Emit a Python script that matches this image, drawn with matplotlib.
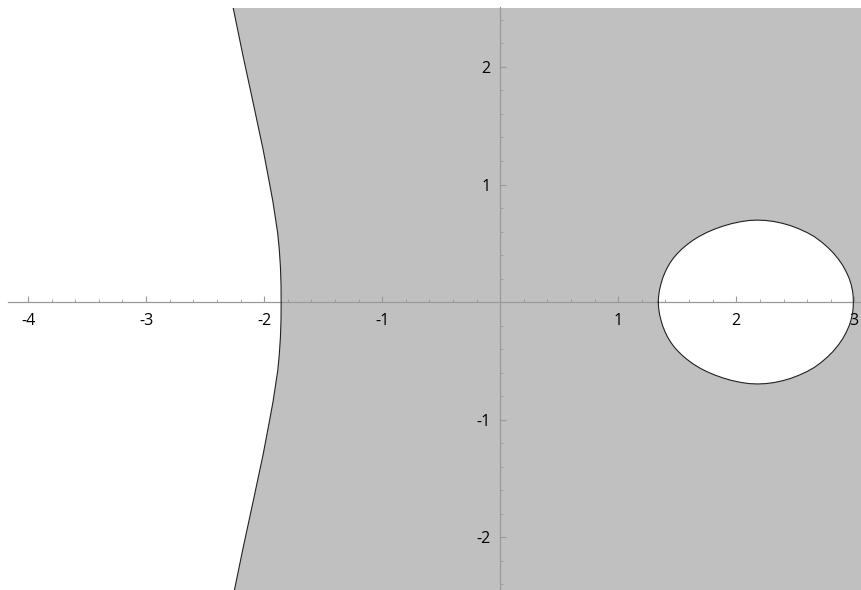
import numpy as np
from matplotlib import pyplot as plt

#Boundary (upper half, curve is symmetric in y)#
#left branch: y -> x
left_y = [0.0, 0.15, 0.3, 0.45, 0.585, 0.85, 1.05, 1.294, 1.70, 2.10, 2.55]
left_x = [-1.856, -1.857, -1.862, -1.872, -1.885, -1.925, -1.962, -2.008, -2.094, -2.180, -2.272]

#closed oval on the right: x -> y
oval_x = [1.339, 1.342, 1.350, 1.362, 1.377, 1.395, 1.415, 1.440, 1.468, 1.500,
          1.540, 1.585, 1.635, 1.690, 1.750, 1.815, 1.885, 1.960, 2.040, 2.110,
          2.180, 2.250, 2.320, 2.390, 2.460, 2.530, 2.600, 2.660, 2.720, 2.775,
          2.820, 2.865, 2.900, 2.930, 2.955, 2.973, 2.985, 2.990, 2.992]
oval_y = [0.000, 0.050, 0.105, 0.155, 0.205, 0.250, 0.292, 0.335, 0.375, 0.412,
          0.452, 0.490, 0.527, 0.561, 0.592, 0.620, 0.645, 0.667, 0.684, 0.694,
          0.697, 0.694, 0.685, 0.670, 0.650, 0.623, 0.591, 0.557, 0.513, 0.465,
          0.420, 0.365, 0.315, 0.260, 0.205, 0.150, 0.095, 0.050, 0.000]

x_major = [-4, -3, -2, -1, 1, 2, 3]
y_major = [-2, -1, 1, 2]

#mirror halves ---------------------------------------------------#
ly = np.array(left_y)
lx = np.array(left_x)
ly_full = np.concatenate([-ly[::-1], ly[1:]])
lx_full = np.concatenate([lx[::-1], lx[1:]])

ux = np.array(oval_x)
uy = np.array(oval_y)
ox_full = np.concatenate([ux, ux[::-1][1:-1]])
oy_full = np.concatenate([uy, -uy[::-1][1:-1]])

#Plot setup ------------------------------------------------------#
fig = plt.figure(figsize=(8.62, 5.90), dpi=100)
ax = fig.add_axes([8/862, 0.0, 1 - 8/862, 1 - 7.5/590])
ax.set_xlim(-4.17, 3.065)
ax.set_ylim(-2.45, 2.506)
ax.set_facecolor('#c0c0c0')

ax.fill_betweenx(ly_full, -10, lx_full, color='white', lw=0, zorder=1)
ax.fill(ox_full, oy_full, color='white', lw=0, zorder=1)
ax.plot(lx_full, ly_full, color='#222222', lw=0.8, zorder=3)
ax.plot(np.append(ox_full, ox_full[0]), np.append(oy_full, oy_full[0]),
        color='#222222', lw=0.8, zorder=3, solid_joinstyle='round')

#axes through the origin
axis_col = '#999999'
for s in ['top', 'right']:
    ax.spines[s].set_visible(False)
ax.spines['left'].set_position(('data', 0))
ax.spines['bottom'].set_position(('data', 0))
for s in ['left', 'bottom']:
    ax.spines[s].set_color(axis_col)
    ax.spines[s].set_linewidth(0.9)
    ax.spines[s].set_zorder(2)

ax.set_xticks(x_major)
ax.set_yticks(y_major)
ax.set_xticks(np.round(np.arange(-4.0, 3.01, 0.2), 2), minor=True)
ax.set_yticks(np.round(np.arange(-2.4, 2.41, 0.2), 2), minor=True)
ax.set_xticklabels([str(v) for v in x_major])
ax.set_yticklabels([str(v) for v in y_major])

ax.tick_params(which='major', direction='in', length=4.2, width=0.8,
               color=axis_col, labelsize=11.5, labelcolor='black')
ax.tick_params(which='minor', direction='in', length=2.2, width=0.6, color=axis_col)
ax.tick_params(axis='x', which='major', pad=8)
ax.tick_params(axis='y', which='major', pad=7)
for lab in ax.get_xticklabels() + ax.get_yticklabels():
    lab.set_family(['Open Sans', 'DejaVu Sans'])

fig.savefig('out.png', dpi=100)
